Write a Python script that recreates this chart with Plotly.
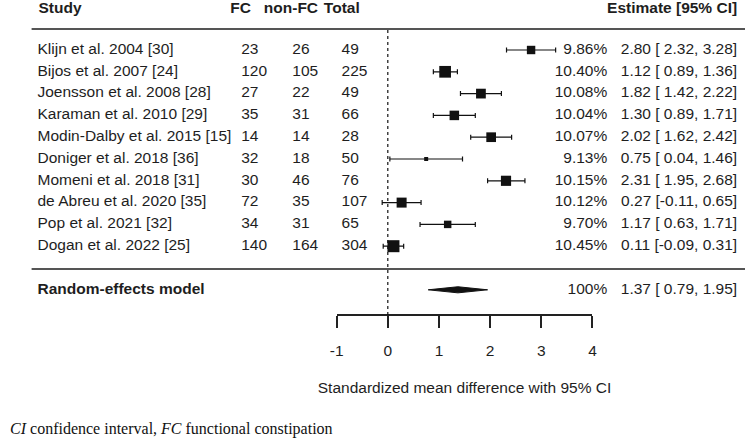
import plotly.graph_objects as go

# ---- data ----
studies = ["Klijn et al. 2004 [30]", "Bijos et al. 2007 [24]", "Joensson et al. 2008 [28]",
           "Karaman et al. 2010 [29]", "Modin-Dalby et al. 2015 [15]", "Doniger et al. 2018 [36]",
           "Momeni et al. 2018 [31]", "de Abreu et al. 2020 [35]", "Pop et al. 2021 [32]",
           "Dogan et al. 2022 [25]"]
fc = [23, 120, 27, 35, 14, 32, 30, 72, 34, 140]
non_fc = [26, 105, 22, 31, 14, 18, 46, 35, 31, 164]
total = [49, 225, 49, 66, 28, 50, 76, 107, 65, 304]
weights = [9.86, 10.40, 10.08, 10.04, 10.07, 9.13, 10.15, 10.12, 9.70, 10.45]
estimate = [2.80, 1.12, 1.82, 1.30, 2.02, 0.75, 2.31, 0.27, 1.17, 0.11]
ci_lower = [2.32, 0.89, 1.42, 0.89, 1.62, 0.04, 1.95, -0.11, 0.63, -0.09]
ci_upper = [3.28, 1.36, 2.22, 1.71, 2.42, 1.46, 2.68, 0.65, 1.71, 0.31]
re_label = "Random-effects model"
re_weight = 100
re_estimate = 1.37
re_lower = 0.79
re_upper = 1.95
x_ticks = [-1, 0, 1, 2, 3, 4]
x_title = "Standardized mean difference with 95% CI"
headers = ["Study", "FC", "non-FC", "Total", "Estimate [95% CI]"]
footnote = "<i>CI</i> confidence interval, <i>FC</i> functional constipation"

# ---- layout constants (pixels) ----
W, H = 750, 438
ROW0, ROWH = 50, 21.8
TXT = "#1e1e1e"
FONT = "Liberation Sans, Arial, sans-serif"
FS = 15.5
PAD = 5      # plotly's built-in offset for text-only scatter points


def py(y):
    return 1 - y / H


def row_of(ypix):
    return (ypix - ROW0) / ROWH


rows = list(range(len(studies)))
re_row = len(studies) + 1

fig = go.Figure()

# study squares with CIs (square size scaled from weight, as in metafor)
wmin, wmax = min(weights), max(weights)
sizes = [8 * (0.5 + (w - wmin) / (wmax - wmin)) for w in weights]
fig.add_trace(go.Scatter(
    x=estimate, y=rows, mode="markers", xaxis="x2", yaxis="y",
    marker=dict(symbol="square", size=sizes, color="#111", opacity=1, line=dict(width=0)),
    error_x=dict(type="data", symmetric=False,
                 array=[u - e for u, e in zip(ci_upper, estimate)],
                 arrayminus=[e - l for e, l in zip(estimate, ci_lower)],
                 color="#111", thickness=1.2, width=2.5),
    cliponaxis=False, showlegend=False, hoverinfo="skip"))

# summary diamond
dh = 0.14
fig.add_trace(go.Scatter(
    x=[re_lower, re_estimate, re_upper, re_estimate, re_lower],
    y=[re_row, re_row - dh, re_row, re_row + dh, re_row],
    xaxis="x2", yaxis="y",
    mode="lines", fill="toself", fillcolor="#111",
    line=dict(color="#111", width=1), showlegend=False, hoverinfo="skip"))


def add_col(xpix, ys, texts, pos="middle right", size=FS, family=FONT, color=TXT):
    if pos.endswith("right"):
        xs = xpix - PAD
    elif pos.endswith("left"):
        xs = xpix + PAD
    else:
        xs = xpix
    fig.add_trace(go.Scatter(
        x=[xs] * len(ys), y=ys, text=texts, mode="text", textposition=pos,
        xaxis="x", yaxis="y", cliponaxis=False,
        textfont=dict(family=family, size=size, color=color),
        showlegend=False, hoverinfo="skip"))


# headers
hrow = row_of(9)
add_col(37, [hrow], [f"<b>{headers[0]}</b>"])
add_col(232, [hrow], [f"<b>{headers[1]}</b>"])
add_col(266, [hrow], [f"<b>{headers[2]}</b>"])
add_col(327, [hrow], [f"<b>{headers[3]}</b>"])
add_col(737, [hrow], [f"<b>{headers[4]}</b>"], pos="middle left")

# study rows
add_col(36, rows, studies)
add_col(243, rows, [str(v) for v in fc])
add_col(295, rows, [str(v) for v in non_fc])
add_col(345, rows, [str(v) for v in total])
add_col(605, rows, [f"{w:.2f}%" for w in weights], pos="middle left")
add_col(737, rows, [f"{e:.2f} [{l:5.2f}, {u:.2f}]" for e, l, u in zip(estimate, ci_lower, ci_upper)],
        pos="middle left")

# summary row
add_col(36, [re_row], [f"<b>{re_label}</b>"])
add_col(605, [re_row], [f"{re_weight}%"], pos="middle left")
add_col(737, [re_row], [f"{re_estimate:.2f} [{re_lower:5.2f}, {re_upper:.2f}]"], pos="middle left")

# footnote (centred so its anchor point stays inside the page)
add_col(167, [row_of(430)], [footnote], pos="middle center", size=16,
        family="Liberation Serif, Times New Roman, serif", color="#111")

shapes = [
    dict(type="line", xref="paper", yref="paper", x0=25 / W, x1=1, y0=py(29), y1=py(29),
         line=dict(color="#555", width=2)),
    dict(type="line", xref="paper", yref="paper", x0=25 / W, x1=1, y0=py(269), y1=py(269),
         line=dict(color="#555", width=2)),
    dict(type="line", xref="x2", yref="paper", x0=0, x1=0, y0=py(315), y1=py(29),
         line=dict(color="#111", width=1.2, dash="dot")),
]

fig.update_layout(
    width=W, height=H, margin=dict(l=0, r=0, t=0, b=0),
    paper_bgcolor="white", plot_bgcolor="rgba(0,0,0,0)",
    shapes=shapes,
    xaxis=dict(domain=[0, 1], range=[0, W], visible=False, showgrid=False, zeroline=False),
    xaxis2=dict(domain=[335 / W, 595 / W], range=[-1, 4], anchor="free", position=py(315),
                tickvals=x_ticks, ticktext=[str(t) for t in x_ticks],
                showline=True, linecolor="#222", linewidth=1.5,
                ticks="outside", ticklen=12, tickwidth=1.5, tickcolor="#222",
                ticklabelstandoff=10, showgrid=False, zeroline=False,
                tickfont=dict(family=FONT, size=FS, color=TXT),
                title=dict(text=x_title, standoff=23, font=dict(family=FONT, size=FS, color=TXT))),
    yaxis=dict(domain=[0, 1], range=[row_of(H), row_of(0)],
               visible=False, showgrid=False, zeroline=False),
)

fig.write_html("out.html", post_script="document.body.style.margin='0';",
               config={"displayModeBar": False})
